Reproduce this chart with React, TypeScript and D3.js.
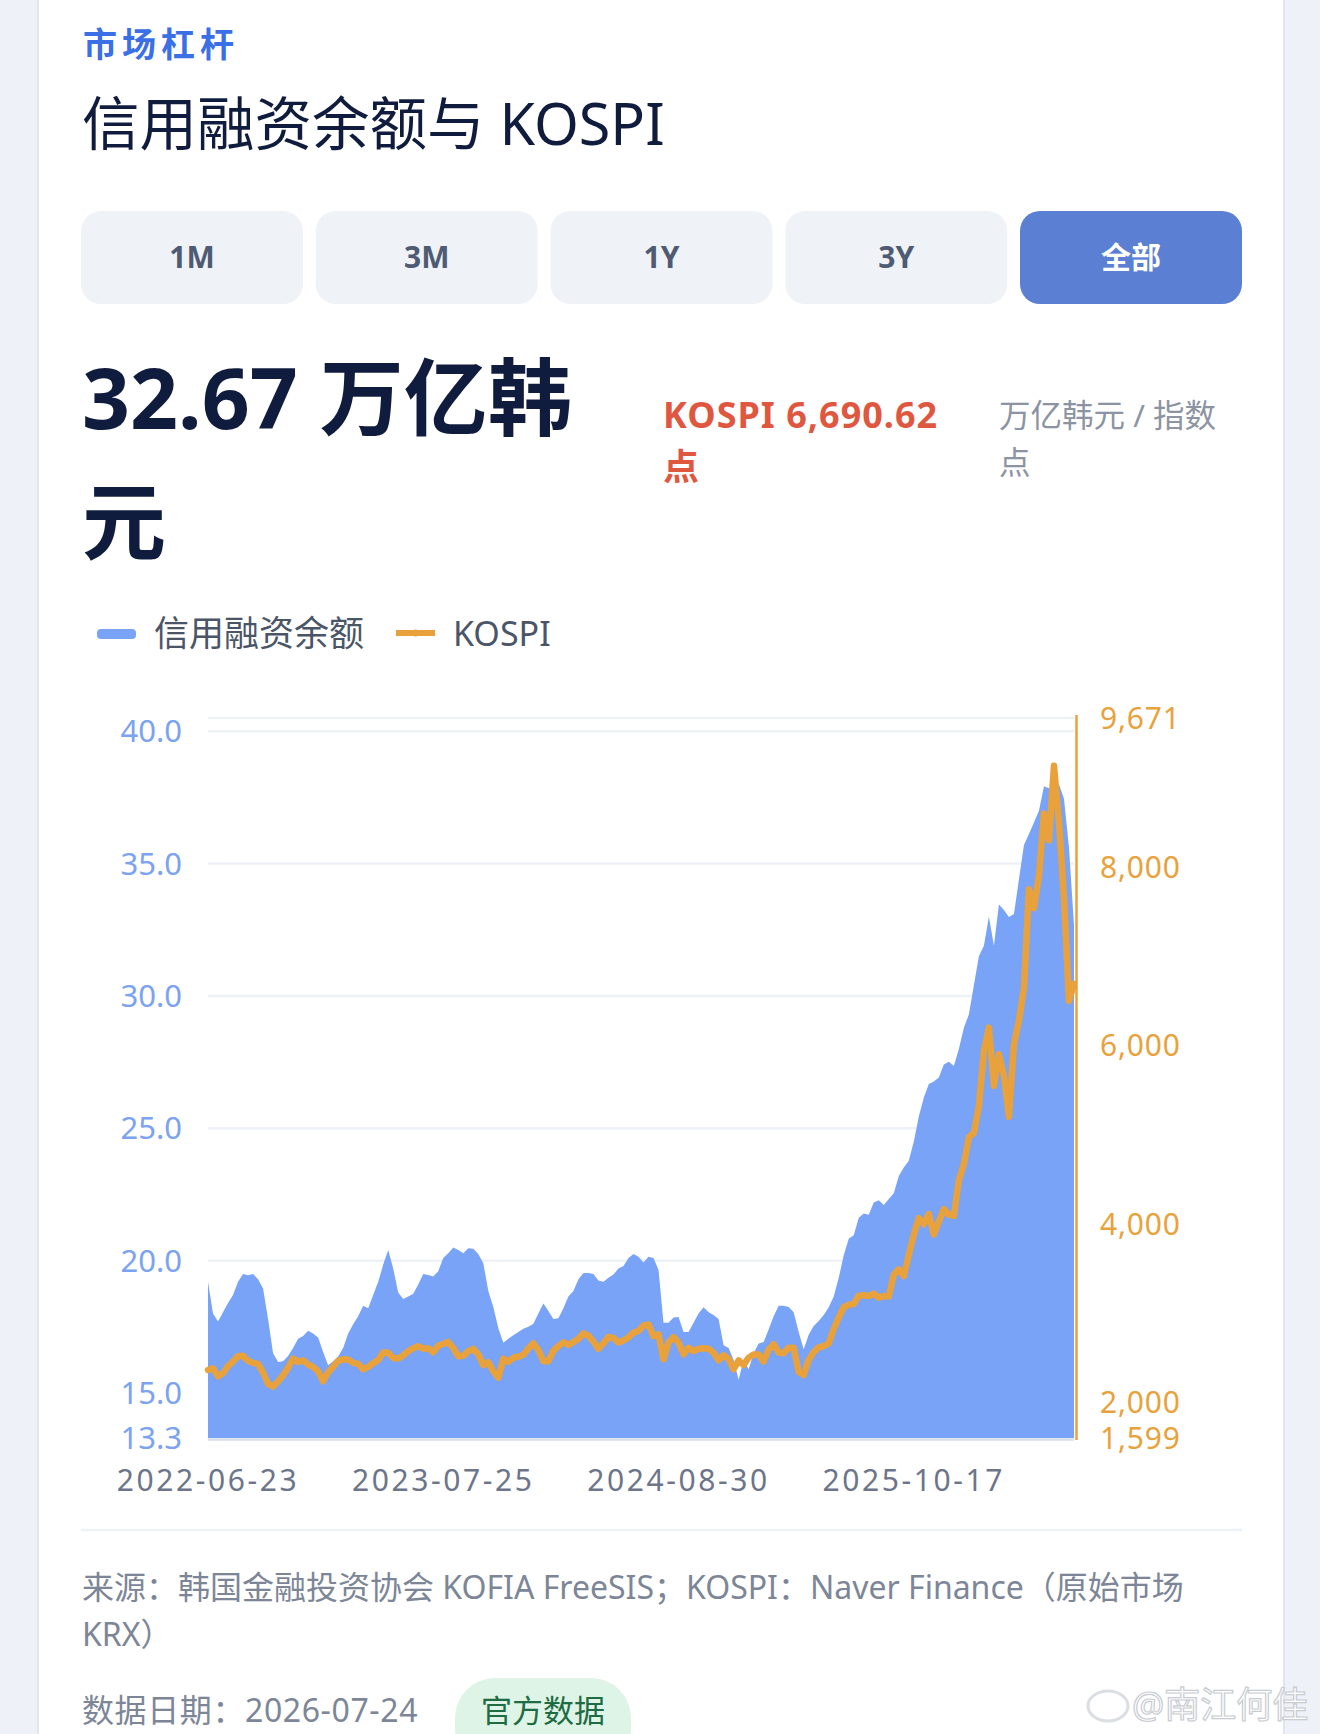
import React from "react";
import * as d3 from "d3";

const FONT = "'Noto Sans','Noto Sans CJK SC',sans-serif";

// 信用融资余额 (万亿韩元), sampled evenly across trading days
const marginBalance = [
  19.2, 18.0, 17.7, 18.05, 18.4, 18.7, 19.2, 19.5, 19.45, 19.5,
  19.3, 18.95, 17.8, 16.5, 16.17, 16.2, 16.4, 16.7, 17.05, 17.15,
  17.35, 17.25, 17.1, 16.55, 16.05, 16.2, 16.38, 16.7, 17.25, 17.6,
  17.9, 18.3, 18.2, 18.7, 19.2, 19.85, 20.4, 19.7, 18.8, 18.55,
  18.65, 18.75, 19.1, 19.5, 19.46, 19.4, 19.6, 20.1, 20.28, 20.5,
  20.4, 20.28, 20.47, 20.45, 20.25, 19.9, 18.85, 18.25, 17.45, 16.9,
  17.05, 17.18, 17.3, 17.43, 17.5, 17.62, 18.0, 18.38, 18.1, 17.8,
  17.82, 18.2, 18.65, 18.85, 19.3, 19.53, 19.53, 19.5, 19.25, 19.2,
  19.35, 19.48, 19.7, 19.8, 20.1, 20.25, 20.15, 19.93, 20.15, 20.1,
  19.65, 17.65, 17.65, 17.85, 17.87, 17.3, 17.3, 17.65, 18.0, 18.24,
  18.05, 17.95, 17.8, 16.8, 16.7, 16.25, 15.5, 16.25, 15.9, 16.5,
  16.87, 16.93, 17.4, 17.9, 18.3, 18.3, 18.25, 18.05, 17.3, 16.65,
  17.2, 17.53, 17.72, 17.95, 18.24, 18.65, 19.35, 20.2, 20.83, 20.96,
  21.62, 21.78, 21.73, 22.2, 22.28, 22.1, 22.33, 22.55, 23.2, 23.52,
  23.77, 24.5, 25.45, 26.16, 26.67, 26.77, 26.92, 27.41, 27.51, 27.35,
  28.0, 28.8, 29.3, 30.4, 31.5, 31.9, 33.0, 31.9, 33.45, 33.25,
  32.98, 33.1, 34.4, 35.7, 36.12, 36.55, 37.0, 37.92, 37.85, 37.85,
  38.0, 37.45, 35.6, 32.67,
];

// KOSPI index, same sampling
const kospi = [
  2361, 2380, 2290, 2325, 2405, 2455, 2515, 2520, 2465, 2441,
  2430, 2333, 2205, 2175, 2235, 2300, 2385, 2490, 2451, 2471,
  2422, 2395, 2347, 2235, 2335, 2394, 2465, 2481, 2478, 2441,
  2430, 2370, 2396, 2438, 2474, 2558, 2555, 2497, 2490, 2524,
  2572, 2606, 2628, 2600, 2605, 2560, 2632, 2655, 2674, 2608,
  2515, 2520, 2572, 2598, 2535, 2417, 2448, 2345, 2276, 2487,
  2453, 2499, 2510, 2532, 2603, 2660, 2586, 2460, 2460, 2577,
  2628, 2672, 2643, 2673, 2711, 2772, 2745, 2680, 2598, 2660,
  2731, 2721, 2670, 2692, 2727, 2780, 2802, 2860, 2870, 2740,
  2760, 2480, 2670, 2730, 2670, 2537, 2610, 2573, 2600, 2605,
  2600, 2555, 2470, 2527, 2484, 2370, 2470, 2417, 2500, 2536,
  2535, 2456, 2590, 2650, 2557, 2550, 2610, 2610, 2340, 2305,
  2475, 2560, 2615, 2630, 2660, 2818, 2950, 3065, 3092, 3100,
  3195, 3200, 3190, 3218, 3172, 3190, 3185, 3430, 3490, 3414,
  3650, 3880, 4065, 3995, 4110, 3880, 4025, 4165, 4100, 4090,
  4490, 4670, 4970, 5018, 5320, 5940, 6200, 5545, 5900, 5660,
  5200, 6010, 6280, 6640, 7750, 7540, 7900, 8600, 8300, 9135,
  8500, 7650, 6500, 6690.62,
];

const xTickLabels = ["2022-06-23", "2023-07-25", "2024-08-30", "2025-10-17"];
const xTickIndex = [0, 47, 94, 141];
const leftTicks = [13.3, 15, 20, 25, 30, 35, 40];
const leftGrid = [15, 20, 25, 30, 35, 40];
const rightTicks = [1599, 2000, 4000, 6000, 8000, 9671];
const periods = ["1M", "3M", "1Y", "3Y", "全部"];
const activePeriod = 4;
const legendItems = ["信用融资余额", "KOSPI"];

const BLUE = "#78a3f7";
const ORANGE = "#e9a23b";

export default function App() {
  const plotL = 208;
  const plotR = 1074;
  const plotT = 718;
  const plotB = 1438;

  const x = d3.scaleLinear().domain([0, marginBalance.length - 1]).range([plotL, plotR]);
  const yL = d3.scaleLinear().domain([13.3, 40.5]).range([plotB, plotT]);
  const yR = d3.scaleLinear().domain([1599, 9671]).range([plotB, plotT]);

  const areaGen = d3
    .area<number>()
    .x((_, i) => x(i))
    .y0(plotB)
    .y1((d) => yL(d));
  const lineGen = d3
    .line<number>()
    .x((_, i) => x(i))
    .y((d) => yR(d));

  const btnW = 222;
  const btnGap = 234.75;

  return (
    <svg
      width={1320}
      height={1734}
      style={{ position: "absolute", left: 0, top: 0, display: "block" }}
      fontFamily={FONT}
    >
      <rect x={0} y={0} width={1320} height={1734} fill="#eef2f8" />
      <rect x={38} y={-40} width={1246} height={1840} rx={30} fill="#ffffff" stroke="#e1e6ee" strokeWidth={2} />

      {/* header */}
      <text x={83} y={57} fontSize={34} fontWeight={700} fill="#3b6fe6" letterSpacing={5}>
        市场杠杆
      </text>
      <text x={82} y={145} fontSize={57.5} fill="#101c3d">
        信用融资余额与 KOSPI
      </text>

      {periods.map((p, i) => {
        const bx = 81 + i * btnGap;
        const active = i === activePeriod;
        return (
          <g key={p}>
            <rect x={bx} y={211} width={btnW} height={93} rx={20} fill={active ? "#5b7fd2" : "#eff3f8"} />
            <text
              x={bx + btnW / 2}
              y={268}
              textAnchor="middle"
              fontSize={30}
              fontWeight={700}
              fill={active ? "#ffffff" : "#4e5b73"}
            >
              {p}
            </text>
          </g>
        );
      })}

      <text x={82} y={429} fontSize={84} fontWeight={700} fill="#101c3d">
        32.67 万亿韩
      </text>
      <text x={82} y={553} fontSize={84} fontWeight={700} fill="#101c3d">
        元
      </text>
      <text x={663} y={428} fontSize={36} fontWeight={700} fill="#e0573f" letterSpacing={1}>
        KOSPI 6,690.62
      </text>
      <text x={663} y={480} fontSize={36} fontWeight={700} fill="#e0573f">
        点
      </text>
      <text x={999} y={427} fontSize={31.5} fill="#8c94a3">
        万亿韩元 / 指数
      </text>
      <text x={999} y={474} fontSize={31.5} fill="#8c94a3">
        点
      </text>

      {/* legend */}
      <rect x={97} y={629} width={39} height={10} rx={4} fill={BLUE} />
      <text x={154} y={646} fontSize={35} fill="#4b5568">
        {legendItems[0]}
      </text>
      <line x1={396} x2={435} y1={633} y2={633} stroke={ORANGE} strokeWidth={6} />
      <circle cx={415.5} cy={633} r={3.5} fill={ORANGE} />
      <text x={453} y={646} fontSize={34} fill="#4b5568">
        {legendItems[1]}
      </text>

      {/* grid */}
      <line x1={plotL} x2={plotR} y1={plotT} y2={plotT} stroke="#eef1f6" strokeWidth={2.5} />
      {leftGrid.map((t) => (
        <line key={t} x1={plotL} x2={plotR} y1={yL(t)} y2={yL(t)} stroke="#eef1f6" strokeWidth={2.5} />
      ))}

      {/* series */}
      <path d={areaGen(marginBalance) || ""} fill={BLUE} />
      <line x1={plotL} x2={plotR} y1={plotB + 1.5} y2={plotB + 1.5} stroke="#d8dfe9" strokeWidth={2.5} />
      <path
        d={lineGen(kospi) || ""}
        fill="none"
        stroke={ORANGE}
        strokeWidth={6.5}
        strokeLinejoin="round"
        strokeLinecap="round"
      />
      <line x1={plotR + 2.5} x2={plotR + 2.5} y1={plotT - 3} y2={plotB + 2} stroke={ORANGE} strokeWidth={2.5} />

      {/* axes labels */}
      {leftTicks.map((t) => (
        <text
          key={t}
          x={182}
          y={yL(t)}
          dy="0.36em"
          textAnchor="end"
          fontSize={31}
          fill="#7ba3f1"
        >
          {t.toFixed(1)}
        </text>
      ))}
      {rightTicks.map((t) => (
        <text key={t} x={1100} y={yR(t)} dy="0.36em" fontSize={30} letterSpacing={0.8} fill={ORANGE}>
          {d3.format(",")(t)}
        </text>
      ))}
      {xTickLabels.map((l, i) => (
        <text
          key={l}
          x={x(xTickIndex[i])}
          y={1491}
          textAnchor="middle"
          fontSize={30}
          letterSpacing={2.6}
          fill="#6c7589"
        >
          {l}
        </text>
      ))}

      {/* footer */}
      <line x1={81} x2={1242} y1={1530} y2={1530} stroke="#eef1f5" strokeWidth={2.5} />
      <text x={82} y={1599} fontSize={32} fill="#7d8697">
        来源：韩国金融投资协会 KOFIA FreeSIS；KOSPI：Naver Finance（原始市场
      </text>
      <text x={82} y={1646} fontSize={32} fill="#7d8697">
        KRX）
      </text>
      <text x={82} y={1722} fontSize={32} fill="#7d8697" letterSpacing={0.6}>
        数据日期：2026-07-24
      </text>
      <rect x={455} y={1678} width={176} height={90} rx={40} fill="#ddf4e7" />
      <text x={543} y={1722} textAnchor="middle" fontSize={31} fill="#1f6b43">
        官方数据
      </text>

      {/* watermark */}
      <ellipse cx={1108} cy={1706} rx={20} ry={15} fill="none" stroke="#d6d9de" strokeWidth={3} opacity={0.9} />
      <text x={1132} y={1718} fontSize={36} fill="#ffffff" stroke="#c3c7ce" strokeWidth={1.2} opacity={0.9}>
        @南江何佳
      </text>
    </svg>
  );
}
